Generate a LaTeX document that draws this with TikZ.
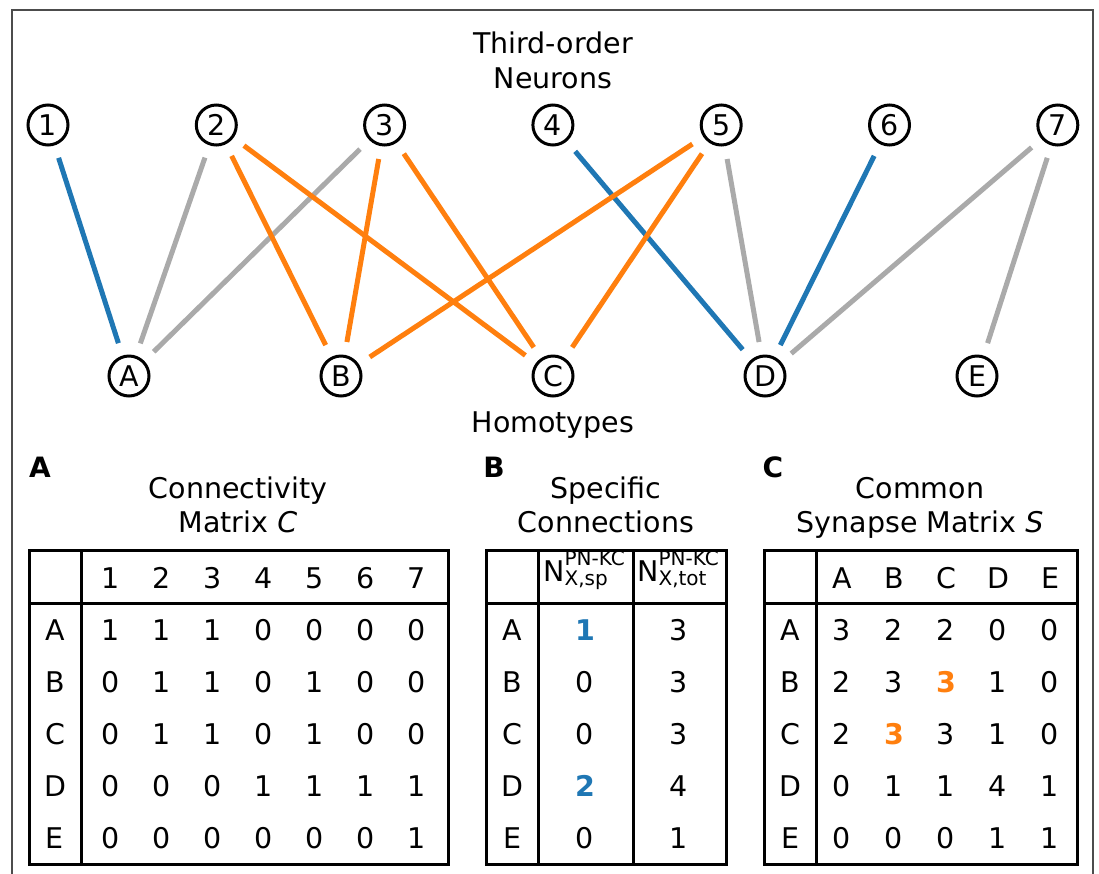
\documentclass[tikz,border=0pt]{standalone}
\usepackage{fontspec}
\setmainfont{DejaVu Sans}

\definecolor{cSpec}{HTML}{1F77B4}
\definecolor{cShared}{HTML}{FF7F0E}
\definecolor{cOther}{HTML}{AAAAAA}
\newcommand\hiSpec[1]{\textcolor{cSpec}{\textbf{#1}}}
\newcommand\hiShared[1]{\textcolor{cShared}{\textbf{#1}}}
\newcommand\pnkc[1]{N\raisebox{-4pt}{\fontsize{20}{17}\selectfont
  \begin{tabular}[b]{@{}l@{}}PN-KC\\#1\end{tabular}}}

\begin{document}
\begin{tikzpicture}[x=1pt, y=-1pt, font=\fontsize{28.5}{32}\selectfont,
  neuron/.style={circle, draw, line width=3pt, minimum size=40pt, inner sep=0pt},
  syn/.style={line width=5pt, shorten <=13pt, shorten >=13pt},
  tab/.style={line width=3pt},
  panel/.style={font=\fontsize{28}{30}\selectfont\bfseries}]

\useasboundingbox (0,0) rectangle (1099,873);

%% frame, open at the bottom
\draw[black!70, line width=2pt] (12,880) -- (12,10) -- (1093,10) -- (1093,880);

%% ---------- neurons and homotypes ----------
\node[anchor=base] (tTop1) at (553,53) {Third-order};
\node[anchor=base] (tTop2) at (553,88) {Neurons};
\foreach \i in {1,...,7}
  \node[neuron] (n\i) at ({48+168.3*(\i-1)},125) {\i};
\foreach \h [count=\k] in {A,B,C,D,E}
  \node[neuron] (h\h) at ({129+212*(\k-1)},376) {\h};
\node[anchor=base] (tHomo) at (553,432) {Homotypes};

%% ---------- connections ----------
\foreach \a/\b/\c in {2/A/cOther, 3/A/cOther, 5/D/cOther, 7/D/cOther, 7/E/cOther,
                      1/A/cSpec, 4/D/cSpec, 6/D/cSpec,
                      2/B/cShared, 3/B/cShared, 5/B/cShared,
                      2/C/cShared, 3/C/cShared, 5/C/cShared}
  \draw[syn, draw=\c] (n\a) -- (h\b);

%% ---------- A: connectivity matrix ----------
\node[panel] (pA) at (40,467) {A};
\node[anchor=base] (tA1) at (238,498) {Connectivity};
\node[anchor=base] (tA2) at (238,532) {Matrix \textit{C}};
\draw[tab] (29,550) rectangle (448,864);
\draw[tab] (81,550) -- (81,864);
\draw[tab] (29,603) -- (448,603);
\foreach \j in {1,...,7}
  \node (ca-h\j) at ({111+51*(\j-1)},578) {\j};
\foreach \r/\vals [count=\i] in {A/{1,1,1,0,0,0,0}, B/{0,1,1,0,1,0,0},
    C/{0,1,1,0,1,0,0}, D/{0,0,0,1,1,1,1}, E/{0,0,0,0,0,0,1}} {
  \node (ca-\r) at (55,{630+52*(\i-1)}) {\r};
  \foreach \v [count=\j] in \vals
    \node (ca-\r\j) at ({111+51*(\j-1)},{630+52*(\i-1)}) {\v};
}

%% ---------- B: specific connections ----------
\node[panel] (pB) at (494,467) {B};
\node[anchor=base] (tB1) at (606,498) {Specific};
\node[anchor=base] (tB2) at (606,532) {Connections};
\draw[tab] (486,550) rectangle (726,864);
\draw[tab] (538,550) -- (538,864);
\draw[tab] (633,550) -- (633,864);
\draw[tab] (486,603) -- (726,603);
\node[anchor=base, inner sep=0pt] (cb-h1) at (584,581) {\pnkc{X,sp}};
\node[anchor=base, inner sep=0pt] (cb-h2) at (678,581) {\pnkc{X,tot}};
\foreach \r/\sp/\tot [count=\i] in {A/\hiSpec{1}/3, B/0/3, C/0/3, D/\hiSpec{2}/4, E/0/1} {
  \node (cb-\r) at (512,{630+52*(\i-1)}) {\r};
  \node (cb-\r1) at (585,{630+52*(\i-1)}) {\sp};
  \node (cb-\r2) at (679,{630+52*(\i-1)}) {\tot};
}

%% ---------- C: common synapse matrix ----------
\node[panel] (pC) at (773,467) {C};
\node[anchor=base] (tC1) at (920,498) {Common};
\node[anchor=base] (tC2) at (920,532) {Synapse Matrix \textit{S}};
\draw[tab] (764,550) rectangle (1077,864);
\draw[tab] (816,550) -- (816,864);
\draw[tab] (764,603) -- (1077,603);
\foreach \h [count=\j] in {A,B,C,D,E}
  \node (cc-h\h) at ({842+52*(\j-1)},578) {\h};
\foreach \r/\vals [count=\i] in {A/{3,2,2,0,0}, B/{2,3,\hiShared{3},1,0},
    C/{2,\hiShared{3},3,1,0}, D/{0,1,1,4,1}, E/{0,0,0,1,1}} {
  \node (cc-\r) at (790,{630+52*(\i-1)}) {\r};
  \foreach \v [count=\j] in \vals
    \node (cc-\r\j) at ({842+52*(\j-1)},{630+52*(\i-1)}) {\v};
}

\end{tikzpicture}
\end{document}
